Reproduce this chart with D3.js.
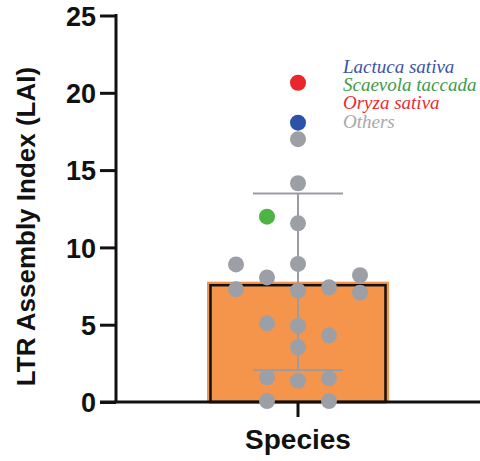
<!DOCTYPE html>
<html>
<head>
<meta charset="utf-8">
<script src="https://cdn.jsdelivr.net/npm/d3@7"></script>
<style>
  html, body { margin: 0; padding: 0; background: #fff; }
  svg { display: block; }
</style>
</head>
<body>
<svg id="chart" width="480" height="461"></svg>
<script>
// LAI of each assembly, grouped by species, with the lane each dot sits in
const categories = ["Species"];
const groups = ["Lactuca sativa", "Scaevola taccada", "Oryza sativa", "Others"];
const groupColors = ["#2a52a6", "#4db345", "#e8262b", "#9d9fa6"];
const legendColors = ["#3a52a8", "#3f9a48", "#ec2a30", "#a9a9ab"];

const laiValues = [18.07, 11.99, 20.65,
  17.0, 14.15, 11.56, 8.9, 8.93, 8.06, 8.2, 7.29, 7.2, 7.42, 7.07,
  5.09, 4.92, 4.31, 3.54, 1.6, 1.38, 1.53, 0.06, 0.06];
const laiGroup = [0, 1, 2,
  3, 3, 3, 3, 3, 3, 3, 3, 3, 3, 3,
  3, 3, 3, 3, 3, 3, 3, 3, 3];
const laiLane = [0, -1, 0,
  0, 0, 0, -2, 0, -1, 2, -2, 0, 1, 2,
  -1, 0, 1, 0, -1, 0, 1, -1, 1];
const yTicks = [0, 5, 10, 15, 20, 25];

const svg = d3.select("#chart");
const x = d3.scaleBand().domain(categories).range([116, 480])
  .paddingInner(0).paddingOuter(0.5);
const y = d3.scaleLinear().domain([0, 25]).range([402, 15.5]);

const mean = d3.mean(laiValues);
const sd = d3.deviation(laiValues);
const cx = x("Species") + x.bandwidth() / 2;
const laneStep = 31;

// bar: orange fill with an inset black outline
const bar = svg.append("g");
bar.append("rect")
  .attr("x", x("Species")).attr("y", y(mean))
  .attr("width", x.bandwidth()).attr("height", y(0) - y(mean))
  .attr("fill", "#f5954b");
bar.append("rect")
  .attr("x", x("Species") + 3.5).attr("y", y(mean) + 3.5)
  .attr("width", x.bandwidth() - 7).attr("height", y(0) - y(mean) - 3.5)
  .attr("fill", "none").attr("stroke", "#111").attr("stroke-width", 2.5);

// axes
const yAxis = svg.append("g").attr("transform", "translate(116,0)")
  .call(d3.axisLeft(y).tickValues(yTicks).tickSize(16).tickPadding(4).tickSizeOuter(0));
yAxis.select(".domain").attr("stroke", "#111").attr("stroke-width", 3).attr("d", `M0,${y(25) - 1.5}V${y(0)}`);
yAxis.selectAll(".tick line").attr("stroke", "#111").attr("stroke-width", 3);
yAxis.selectAll(".tick text")
  .attr("font-family", "'Liberation Sans', Arial, sans-serif")
  .attr("font-weight", "bold").attr("font-size", 27).attr("fill", "#111")
  .attr("dy", "0.36em");

const xAxis = svg.append("g").attr("transform", `translate(0,${y(0)})`)
  .call(d3.axisBottom(x).tickSize(15).tickSizeOuter(0).tickFormat(""));
xAxis.select(".domain").attr("stroke", "#111").attr("stroke-width", 3).attr("d", "M100,0H480");
xAxis.selectAll(".tick line").attr("stroke", "#111").attr("stroke-width", 3);

svg.append("text")
  .attr("x", cx).attr("y", 449)
  .attr("text-anchor", "middle")
  .attr("font-family", "'Liberation Sans', Arial, sans-serif")
  .attr("font-weight", "bold").attr("font-size", 28).attr("fill", "#111")
  .text("Species");

svg.append("text")
  .attr("transform", `translate(35,${(63 + 390) / 2}) rotate(-90)`)
  .attr("text-anchor", "middle")
  .attr("font-family", "'Liberation Sans', Arial, sans-serif")
  .attr("font-weight", "bold").attr("font-size", 26).attr("fill", "#111")
  .text("LTR Assembly Index (LAI)");

// mean ± SD error bar
const err = svg.append("g").attr("stroke", "#9a9ba3").attr("stroke-width", 2);
err.append("line").attr("x1", cx).attr("x2", cx).attr("y1", y(mean + sd)).attr("y2", y(mean - sd));
err.append("line").attr("x1", cx - 45).attr("x2", cx + 45).attr("y1", y(mean + sd)).attr("y2", y(mean + sd));
err.append("line").attr("x1", cx - 45).attr("x2", cx + 45).attr("y1", y(mean - sd)).attr("y2", y(mean - sd));

// individual assemblies
svg.append("g").selectAll("circle")
  .data(laiValues.map((v, i) => ({ v, g: laiGroup[i], lane: laiLane[i] })))
  .join("circle")
  .attr("cx", d => cx + d.lane * laneStep)
  .attr("cy", d => y(d.v))
  .attr("r", 8)
  .attr("fill", d => groupColors[d.g]);

// legend
svg.append("g").selectAll("text")
  .data(groups)
  .join("text")
  .attr("x", 343)
  .attr("y", (d, i) => 72.7 + i * 18.3)
  .attr("font-family", "'Liberation Serif', 'Times New Roman', serif")
  .attr("font-style", "italic").attr("font-size", 19)
  .attr("fill", (d, i) => legendColors[i])
  .text(d => d);
</script>
</body>
</html>
